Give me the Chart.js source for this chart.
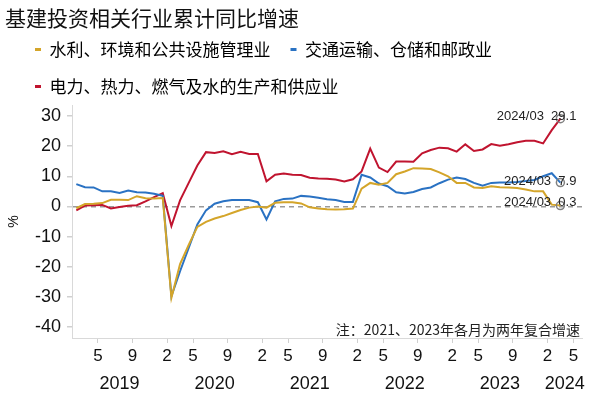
<!DOCTYPE html>
<html>
<head>
<meta charset="utf-8">
<script src="https://cdn.jsdelivr.net/npm/chart.js@4.4.1/dist/chart.umd.min.js"></script>
<style>
  html, body { margin: 0; padding: 0; background: #fff; }
  #wrap { width: 597px; height: 397px; }
</style>
</head>
<body>
<div id="wrap"><canvas id="chart"></canvas></div>
<script>
// axis categories (cumulative months, Jan-Feb reported as "02")
const periods = [
  '2019/02','2019/03','2019/04','2019/05','2019/06','2019/07','2019/08','2019/09','2019/10','2019/11','2019/12',
  '2020/02','2020/03','2020/04','2020/05','2020/06','2020/07','2020/08','2020/09','2020/10','2020/11','2020/12',
  '2021/02','2021/03','2021/04','2021/05','2021/06','2021/07','2021/08','2021/09','2021/10','2021/11','2021/12',
  '2022/02','2022/03','2022/04','2022/05','2022/06','2022/07','2022/08','2022/09','2022/10','2022/11','2022/12',
  '2023/02','2023/03','2023/04','2023/05','2023/06','2023/07','2023/08','2023/09','2023/10','2023/11','2023/12',
  '2024/02','2024/03','2024/04','2024/05'
];
const years = ['2019', '2020', '2021', '2022', '2023', '2024'];
const tickMonths = ['02', '05', '09'];
const yTicks = [-40, -30, -20, -10, 0, 10, 20, 30];

const seriesNames = ['水利、环境和公共设施管理业', '交通运输、仓储和邮政业', '电力、热力、燃气及水的生产和供应业'];

const water = [
  -0.6, 0.8, 0.9, 1.1, 2.2, 2.2, 2.1, 3.4, 2.7, 2.6, 2.8,
  -30.3, -19.1, -12.8, -6.8, -5.1, -4.0, -3.2, -2.2, -1.2, -0.4, 0.0,
  -0.4, 1.2, 1.4, 1.4, 1.0, -0.3, -0.7, -0.9, -1.0, -0.9, -0.7,
  5.9, 7.8, 7.2, 7.8, 10.7, 11.6, 12.7, 12.6, 12.4, 11.3, 10.0,
  7.8, 7.8, 6.3, 6.1, 6.7, 6.4, 6.3, 6.1, 5.6, 5.0, 5.0,
  0.6, 0.3
];
const transport = [
  7.4, 6.4, 6.3, 5.0, 5.0, 4.5, 5.3, 4.7, 4.6, 4.2, 3.5,
  -29.8, -21.5, -13.8, -6.0, -1.3, 0.9, 1.7, 2.1, 2.1, 2.1, 1.4,
  -4.3, 1.7, 2.5, 2.6, 3.5, 3.3, 2.9, 2.4, 2.1, 1.5, 1.5,
  10.5, 9.6, 7.6, 6.7, 4.7, 4.3, 4.8, 5.8, 6.3, 7.7, 8.9,
  9.6, 9.1, 7.8, 6.9, 7.8, 7.9, 7.9, 8.1, 8.4, 8.8, 10.0,
  11.0, 7.9
];
const power = [
  -1.3, 0.3, 0.4, 0.5, -0.7, -0.2, 0.2, 0.4, 1.7, 3.1, 4.4,
  -6.5, 2.0, 7.8, 13.6, 18.0, 17.7, 18.3, 17.3, 18.1, 17.4, 17.4,
  8.3, 10.5, 10.9, 10.5, 10.4, 9.5, 9.3, 9.2, 8.9, 8.3, 9.0,
  11.6, 19.2, 12.9, 11.4, 14.9, 14.9, 14.8, 17.6, 18.7, 19.5, 19.3,
  18.2, 20.6, 18.4, 18.9, 20.7, 20.1, 20.6, 21.3, 21.8, 21.8, 20.9,
  25.3, 29.1
];

const note = '注：2021、2023年各月为两年复合增速';
const colors = ['#d4a52a', '#2a72c3', '#c0142f'];
const labelDy = [-3, -1, -2];

const cjk = '"Noto Sans CJK SC", sans-serif';
Chart.defaults.font.family = '"Liberation Sans", Arial, sans-serif';
Chart.defaults.color = '#111';

function toPoints(arr) {
  return arr.map((v, i) => ({ x: i, y: v }));
}

const lastRadius = c => (c.dataIndex === c.dataset.data.length - 1 ? 4 : 0);

const datasets = [water, transport, power].map((arr, i) => ({
  label: seriesNames[i],
  data: toPoints(arr),
  borderColor: colors[i],
  backgroundColor: colors[i],
  borderWidth: 2,
  tension: 0,
  pointRadius: lastRadius,
  pointHoverRadius: lastRadius,
  pointBorderColor: '#808080',
  pointBackgroundColor: 'rgba(0,0,0,0)',
  pointBorderWidth: 1.5,
  labelDy: labelDy[i]
}));

const extras = {
  id: 'extras',
  afterLayout(chart) {
    chart.legend.left += 10;
  },
  afterDatasetsDraw(chart) {
    const ctx = chart.ctx;
    ctx.save();
    ctx.fillStyle = '#222';
    ctx.textAlign = 'right';
    ctx.textBaseline = 'middle';
    ctx.font = '13px "Liberation Sans", Arial, sans-serif';
    chart.data.datasets.forEach((ds, i) => {
      const last = ds.data.length - 1;
      const pt = chart.getDatasetMeta(i).data[last];
      ctx.fillText(periods[last] + '  ' + ds.data[last].y.toFixed(1), pt.x + 16, pt.y + ds.labelDy);
    });
    ctx.font = '14px ' + cjk;
    ctx.fillText(note, chart.chartArea.right - 2, chart.chartArea.bottom - 8);
    ctx.restore();
  }
};

new Chart(document.getElementById('chart'), {
  type: 'line',
  data: { datasets },
  plugins: [extras],
  options: {
    responsive: true,
    maintainAspectRatio: false,
    animation: false,
    layout: { padding: { left: 5, right: 15, top: 0, bottom: 0 } },
    plugins: {
      title: {
        display: true,
        text: '基建投资相关行业累计同比增速',
        align: 'start',
        color: '#111',
        font: { family: cjk, size: 21, weight: 'normal' },
        padding: { top: 5.4, bottom: -9.6 }
      },
      legend: {
        position: 'top',
        align: 'start',
        labels: {
          boxWidth: 6,
          boxHeight: 3,
          padding: 20,
          color: '#111',
          font: { family: cjk, size: 17 },
          generateLabels: chart => chart.data.datasets.map((ds, i) => ({
            text: ds.label,
            fillStyle: ds.borderColor,
            strokeStyle: ds.borderColor,
            lineWidth: 0,
            datasetIndex: i
          }))
        }
      },
      tooltip: { enabled: false }
    },
    scales: {
      x: {
        type: 'linear',
        position: 'bottom',
        min: -0.5,
        max: periods.length - 0.5,
        afterBuildTicks: s => {
          s.ticks = [];
          periods.forEach((p, i) => {
            if (i > 0 && tickMonths.includes(p.slice(5))) s.ticks.push({ value: i - 0.5 });
          });
        },
        ticks: {
          autoSkip: false,
          maxRotation: 0,
          padding: 3.5,
          font: { size: 17 },
          color: '#111',
          callback: v => String(Number(periods[Math.round(v + 0.5)].slice(5)))
        },
        grid: { display: true, drawOnChartArea: false, tickLength: 5, tickColor: '#d0d0d0' },
        border: { color: '#d9d9d9' }
      },
      x2: {
        type: 'linear',
        position: 'bottom',
        min: -0.5,
        max: periods.length - 0.5,
        afterBuildTicks: s => {
          s.ticks = years.map(y => {
            const idx = [];
            periods.forEach((p, i) => { if (p.startsWith(y)) idx.push(i); });
            return { value: (idx[0] + idx[idx.length - 1]) / 2 };
          });
        },
        ticks: {
          autoSkip: false,
          maxRotation: 0,
          padding: 2.5,
          font: { size: 18 },
          color: '#111',
          callback: (v, i) => years[i]
        },
        grid: { display: false, drawTicks: false },
        border: { display: false }
      },
      y: {
        min: -43.65,
        max: 33.65,
        afterBuildTicks: s => { s.ticks = yTicks.map(v => ({ value: v })); },
        afterFit: s => { s.width = 67; },
        ticks: { padding: 6, font: { size: 18 }, color: '#111' },
        title: { display: true, text: '%', font: { size: 14 }, color: '#111', padding: { top: 1, bottom: 0 } },
        grid: {
          drawOnChartArea: true,
          tickLength: 5,
          tickColor: '#d0d0d0',
          color: c => (c.tick && c.tick.value === 0 ? '#9a9a9a' : 'rgba(0,0,0,0)'),
          lineWidth: 1.5
        },
        border: { color: '#d9d9d9', dash: [5, 4] }
      }
    }
  }
});
</script>
</body>
</html>
